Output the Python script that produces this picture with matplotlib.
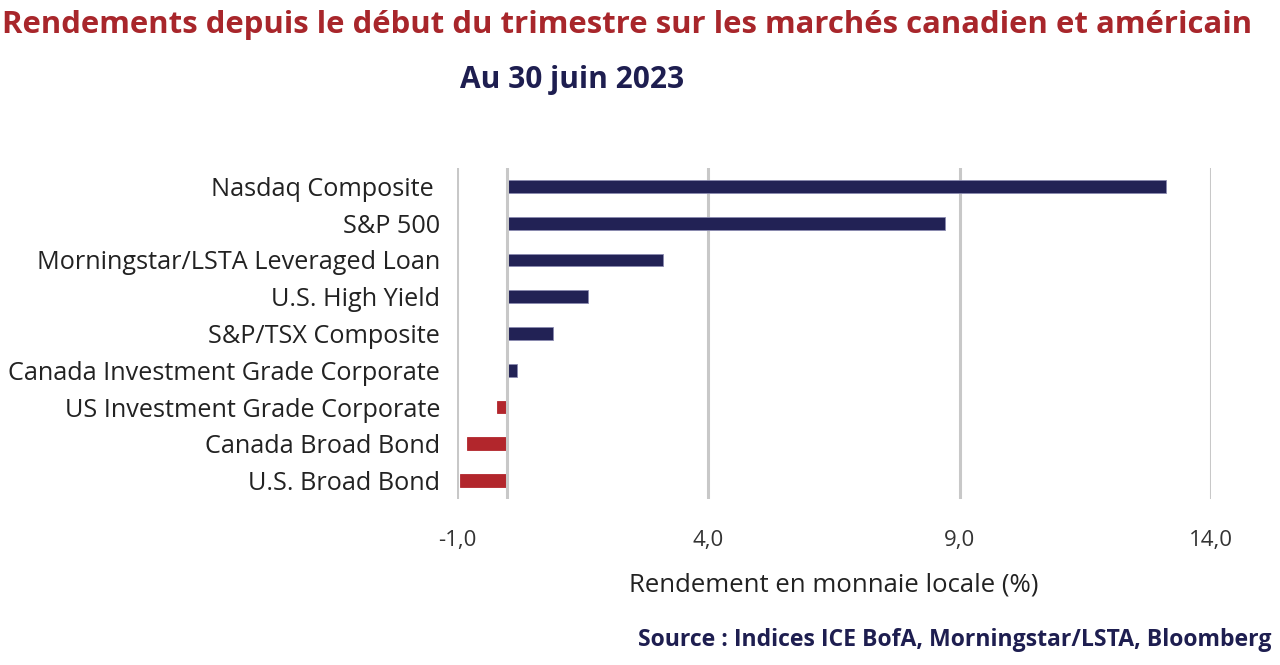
import matplotlib
matplotlib.use("Agg")
import matplotlib.pyplot as plt
from matplotlib.ticker import FixedLocator, FuncFormatter

categories = ["Nasdaq Composite ", "S&P 500", "Morningstar/LSTA Leveraged Loan",
              "U.S. High Yield", "S&P/TSX Composite", "Canada Investment Grade Corporate",
              "US Investment Grade Corporate", "Canada Broad Bond", "U.S. Broad Bond"]
values = [13.1, 8.7, 3.1, 1.6, 0.9, 0.2, -0.2, -0.8, -0.95]
xticks = [-1.0, 4.0, 9.0, 14.0]

NAVY = "#222255"
RED = "#b2262c"

fig = plt.figure(figsize=(12.8, 6.65), dpi=100)
W, H = 1280, 665
ax = fig.add_axes([457/W, 1-499/H, (1211-457)/W, (499-168)/H])

ypos = list(range(len(categories)))
colors = [NAVY if v >= 0 else RED for v in values]
edges = ["#8a8ab0" if v >= 0 else RED for v in values]
ax.barh(ypos, values, height=0.35, color=colors, edgecolor=edges, linewidth=0.6, zorder=3)
ax.set_ylim(len(categories)-0.5, -0.5)
ax.set_xlim(-1, 14)
ax.xaxis.set_major_locator(FixedLocator(xticks))
ax.xaxis.set_major_formatter(FuncFormatter(lambda v, p: f"{v:.1f}".replace(".", ",")))
ax.grid(axis="x", color="#c8c8c8", linewidth=2.2, zorder=0)
ax.axvline(0, color="#c8c8c8", linewidth=2.2, zorder=4)
for s in ax.spines.values():
    s.set_visible(False)
ax.tick_params(axis="both", length=0)
ax.set_yticks(ypos)
ax.set_yticklabels(categories, fontsize=18.2, color="#222222", family="Open Sans")
for t in ax.get_yticklabels():
    t.set_va("center_baseline")
ax.tick_params(axis="y", pad=12)
ax.tick_params(axis="x", pad=22, labelsize=16, labelcolor="#333333")
for t in ax.get_xticklabels():
    t.set_family("Open Sans")
ax.set_xlabel("Rendement en monnaie locale (%)", fontsize=18.5, color="#222222",
              family="Open Sans", labelpad=16)

fig.text(627/W, 1-25/H, "Rendements depuis le début du trimestre sur les marchés canadien et américain",
         ha="center", va="center", fontsize=22.4, fontweight="bold", color="#a8262b", family="Open Sans")
fig.text(572/W, 1-80/H, "Au 30 juin 2023", ha="center", va="center", fontsize=21.5,
         fontweight="bold", color="#1e1e50", family="Open Sans")
fig.text(1272/W, 1-640/H, "Source : Indices ICE BofA, Morningstar/LSTA, Bloomberg", ha="right",
         va="center", fontsize=16.6, fontweight="bold", color="#1e1e50", family="Open Sans")

fig.savefig("out.png", dpi=100)
